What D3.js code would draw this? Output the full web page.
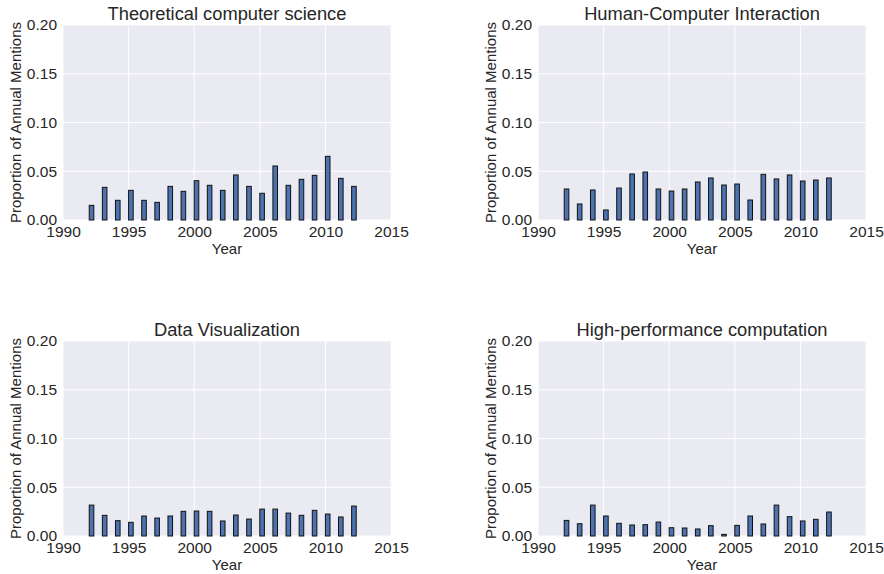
<!DOCTYPE html>
<meta charset="utf-8">
<script src="https://d3js.org/d3.v7.min.js"></script>
<style>
  body { margin: 0; background: #fff; }
  text { font-family: Arial, "Liberation Sans", sans-serif; fill: #262626; }
</style>
<div id="chart"></div>
<script>
// data
const years = d3.range(1992, 2013);
const titles = ["Theoretical computer science", "Human-Computer Interaction",
                "Data Visualization", "High-performance computation"];
const theory = [0.0150, 0.0335, 0.0202, 0.0304, 0.0202, 0.0181, 0.0345, 0.0294, 0.0403, 0.0356,
                0.0304, 0.0462, 0.0345, 0.0274, 0.0554, 0.0356, 0.0417, 0.0458, 0.0653, 0.0427, 0.0345];
const hci    = [0.0318, 0.0164, 0.0308, 0.0103, 0.0328, 0.0472, 0.0492, 0.0318, 0.0297, 0.0318,
                0.0390, 0.0431, 0.0359, 0.0369, 0.0205, 0.0468, 0.0421, 0.0462, 0.0400, 0.0410, 0.0431];
const datavis = [0.0317, 0.0212, 0.0157, 0.0140, 0.0205, 0.0184, 0.0205, 0.0253, 0.0256, 0.0253,
                 0.0154, 0.0215, 0.0174, 0.0276, 0.0276, 0.0235, 0.0212, 0.0263, 0.0225, 0.0195, 0.0307];
const hpc    = [0.0160, 0.0126, 0.0317, 0.0205, 0.0130, 0.0113, 0.0116, 0.0143, 0.0085, 0.0082,
                0.0072, 0.0106, 0.0017, 0.0109, 0.0205, 0.0123, 0.0317, 0.0198, 0.0154, 0.0171, 0.0246];
const xTicks = [1990, 1995, 2000, 2005, 2010, 2015];
const yTicks = [0, 0.05, 0.10, 0.15, 0.20];

const series = [theory, hci, datavis, hpc];

const W = 884, H = 574;
const pw = 328, ph = 195;
const origins = [[63, 25], [538, 25], [63, 341], [538, 341]];
const barWidth = 0.35;

const svg = d3.select("#chart").append("svg")
  .attr("width", W).attr("height", H);

series.forEach((vals, i) => {
  const [ox, oy] = origins[i];
  const g = svg.append("g").attr("transform", `translate(${ox},${oy})`);

  const x = d3.scaleLinear().domain([1990, 2015]).range([0, pw]);
  const y = d3.scaleLinear().domain([0, 0.2]).range([ph, 0]);

  g.append("rect")
    .attr("width", pw).attr("height", ph)
    .attr("fill", "#EAEAF2");

  // grid
  g.selectAll(".vg").data(xTicks).join("line")
    .attr("x1", d => x(d)).attr("x2", d => x(d))
    .attr("y1", 0).attr("y2", ph)
    .attr("stroke", "#fff").attr("stroke-width", 1);
  g.selectAll(".hg").data(yTicks).join("line")
    .attr("x1", 0).attr("x2", pw)
    .attr("y1", d => y(d)).attr("y2", d => y(d))
    .attr("stroke", "#fff").attr("stroke-width", 1);

  // bars
  g.selectAll(".bar").data(vals).join("rect")
    .attr("x", (d, j) => x(years[j]))
    .attr("y", d => y(d))
    .attr("width", x(1990 + barWidth) - x(1990))
    .attr("height", d => ph - y(d))
    .attr("fill", "#4C72B0")
    .attr("stroke", "#111")
    .attr("stroke-width", 1);

  // axes
  const xAxis = g.append("g")
    .attr("transform", `translate(0,${ph})`)
    .call(d3.axisBottom(x).tickValues(xTicks).tickFormat(d3.format("d")).tickSize(0).tickPadding(6));
  const yAxis = g.append("g")
    .call(d3.axisLeft(y).tickValues(yTicks).tickFormat(d3.format(".2f")).tickSize(0).tickPadding(6));
  [xAxis, yAxis].forEach(a => {
    a.select(".domain").remove();
    a.selectAll("text").style("font-size", "15.5px").attr("fill", "#262626");
  });

  g.append("text")
    .attr("x", pw / 2).attr("y", ph + 34)
    .attr("text-anchor", "middle")
    .style("font-size", "15px")
    .text("Year");

  g.append("text")
    .attr("transform", `translate(-42,${ph / 2}) rotate(-90)`)
    .attr("text-anchor", "middle")
    .style("font-size", "15px")
    .text("Proportion of Annual Mentions");

  g.append("text")
    .attr("x", pw / 2).attr("y", -5)
    .attr("text-anchor", "middle")
    .style("font-size", "18.3px")
    .text(titles[i]);
});
</script>
